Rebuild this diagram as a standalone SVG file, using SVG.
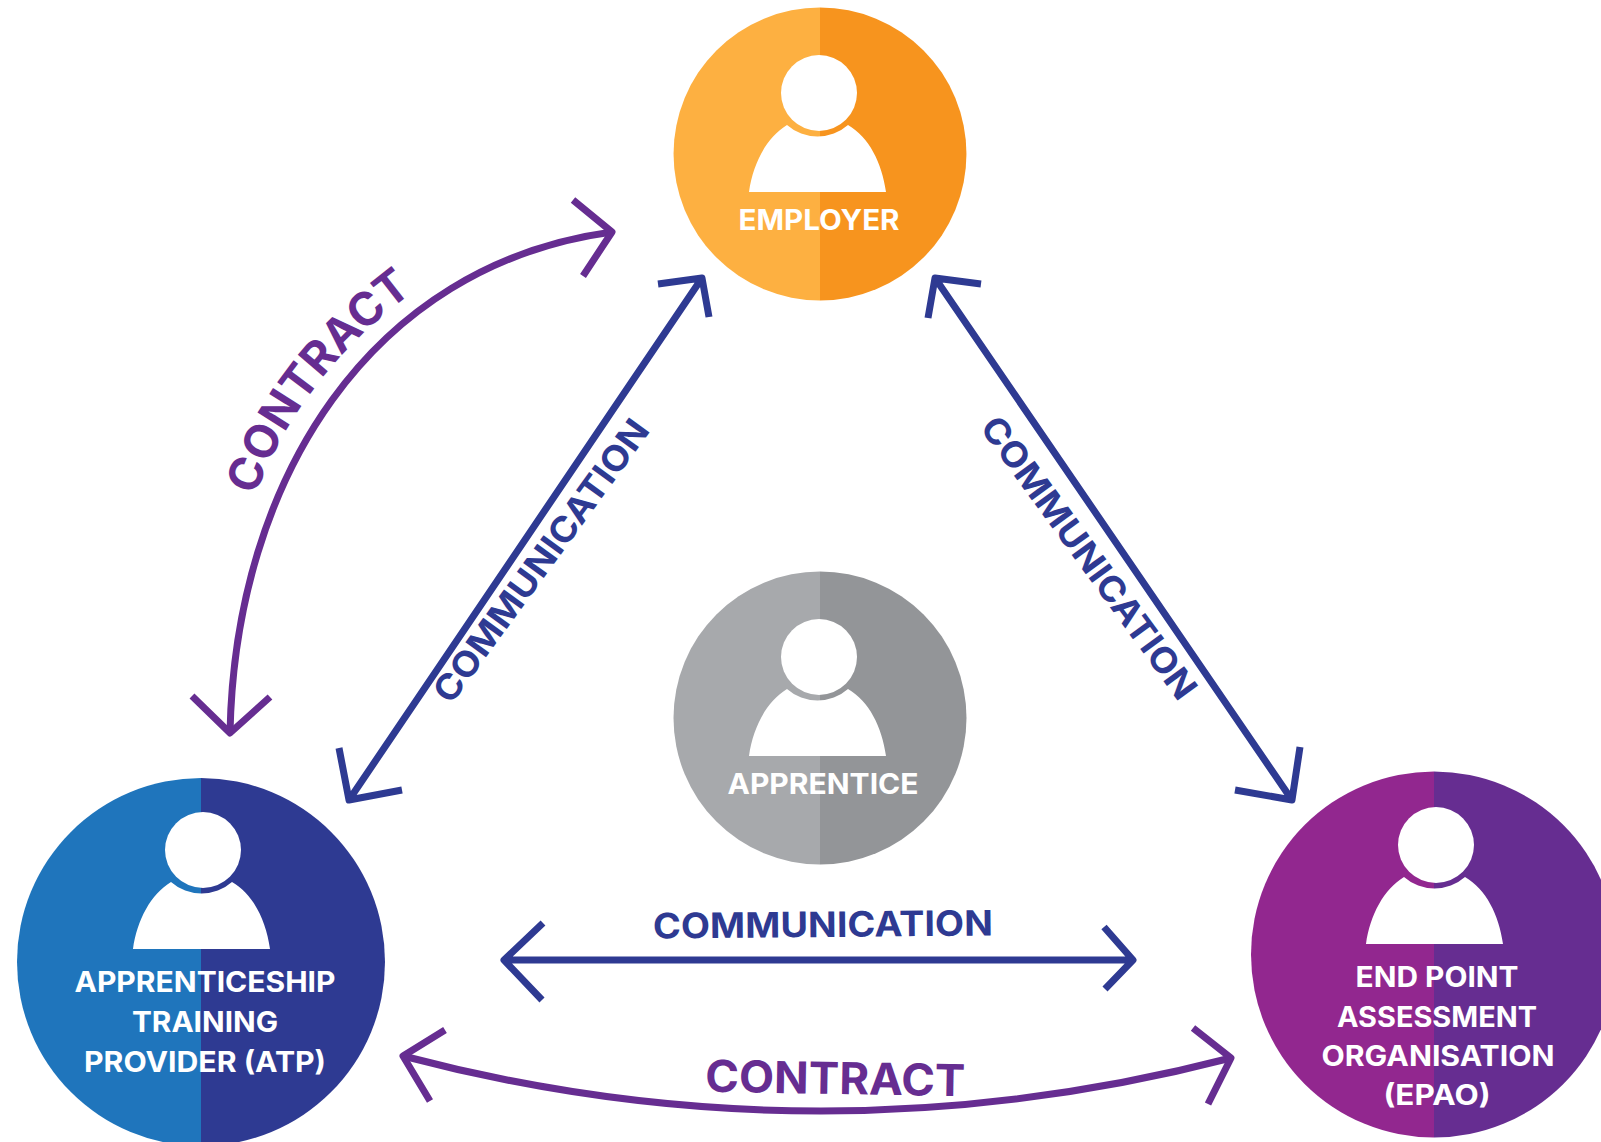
<svg xmlns="http://www.w3.org/2000/svg" xmlns:xlink="http://www.w3.org/1999/xlink" width="1601" height="1142" viewBox="0 0 1601 1142">
<style>
.comm{fill:none;stroke:#2E3A92;stroke-width:7;stroke-linejoin:round}
.cont{fill:none;stroke:#662D91;stroke-width:7;stroke-linejoin:round}
text{font-family:"Inter","Liberation Sans",sans-serif;text-anchor:middle}
.n{fill:#fff;font-size:28px;font-weight:700}
.tc{fill:#2E3A92;font-weight:700}
.tp{fill:#662D91;font-weight:700}
</style>
<defs>
<g id="person" fill="#fff">
<circle cx="0" cy="0" r="38"/>
<path d="M-70 99C-66 70-52 44-32 32A46 46 0 0 0 29 32C50 44 63 70 67 99Z"/>
</g>
</defs>
<rect width="1601" height="1142" fill="#fff"/>
<g id="connectors">
<path class="cont" d="M230 733C235 480 370 265 612 232"/>
<path class="cont" d="M192 696L230 733L270 697M573 200L612 232L583 276"/>
<path class="cont" d="M403 1056Q817 1165 1231 1058"/>
<path class="cont" d="M445 1030L403 1056L430 1101M1193 1028L1231 1058L1208 1104"/>
<path class="comm" d="M349 800L702 278M658 284L702 278L709 317M339 748L349 800L402 790"/>
<path class="comm" d="M935 278L1292 800M981 284L935 278L928 318M1300 747L1292 800L1235 790"/>
<path class="comm" d="M504 960L1133 960M543 923L504 960L542 1000M1104 927L1133 960L1105 989"/>
</g>
<g id="connector-labels">
<path id="cp" d="M257 492Q300 377 410 294" fill="none"/>
<text class="tp" font-size="46"><textPath xlink:href="#cp" href="#cp" startOffset="50%">CONTRACT</textPath></text>
<text class="tp" font-size="44" transform="translate(835 1094) rotate(1)" textLength="260" lengthAdjust="spacingAndGlyphs">CONTRACT</text>
<text class="tc" font-size="35" transform="translate(823 937) rotate(-.5)" textLength="340" lengthAdjust="spacingAndGlyphs">COMMUNICATION</text>
<text class="tc" font-size="35" transform="translate(551 568) rotate(-54)" textLength="340" lengthAdjust="spacingAndGlyphs">COMMUNICATION</text>
<text class="tc" font-size="35" transform="translate(1079 565) rotate(54)" textLength="340" lengthAdjust="spacingAndGlyphs">COMMUNICATION</text>
</g>
<g id="employer">
<path d="M820 7.500A146.500 146.500 0 0 0 820 300.500Z" fill="#FDB041"/>
<path d="M820 7.500A146.500 146.500 0 0 1 820 300.500Z" fill="#F7941E"/>
<use href="#person" xlink:href="#person" x="819" y="93"/>
<text class="n" x="819" y="230" textLength="161" lengthAdjust="spacingAndGlyphs">EMPLOYER</text>
</g>
<g id="apprentice">
<path d="M820 571.500A146.500 146.500 0 0 0 820 864.500Z" fill="#A7A9AC"/>
<path d="M820 571.500A146.500 146.500 0 0 1 820 864.500Z" fill="#939598"/>
<use href="#person" xlink:href="#person" x="819" y="657"/>
<text class="n" x="823" y="794" textLength="191" lengthAdjust="spacingAndGlyphs">APPRENTICE</text>
</g>
<g id="atp">
<path d="M201 778A184 184 0 0 0 201 1146Z" fill="#1F75BC"/>
<path d="M201 778A184 184 0 0 1 201 1146Z" fill="#2E3A92"/>
<use href="#person" xlink:href="#person" x="203" y="850"/>
<text class="n" x="205" y="992" textLength="261" lengthAdjust="spacingAndGlyphs">APPRENTICESHIP</text>
<text class="n" x="205" y="1032" textLength="146" lengthAdjust="spacingAndGlyphs">TRAINING</text>
<text class="n" x="205" y="1072" textLength="242" lengthAdjust="spacingAndGlyphs">PROVIDER (ATP)</text>
</g>
<g id="epao">
<path d="M1434 771.500A183 183 0 0 0 1434 1137.500Z" fill="#92278F"/>
<path d="M1434 771.500A183 183 0 0 1 1434 1137.500Z" fill="#662D91"/>
<use href="#person" xlink:href="#person" x="1436" y="845"/>
<text class="n" x="1437" y="987" textLength="163" lengthAdjust="spacingAndGlyphs">END POINT</text>
<text class="n" x="1437" y="1027" textLength="200" lengthAdjust="spacingAndGlyphs">ASSESSMENT</text>
<text class="n" x="1438" y="1066" textLength="233" lengthAdjust="spacingAndGlyphs">ORGANISATION</text>
<text class="n" x="1437" y="1105" textLength="107" lengthAdjust="spacingAndGlyphs">(EPAO)</text>
</g>
</svg>
